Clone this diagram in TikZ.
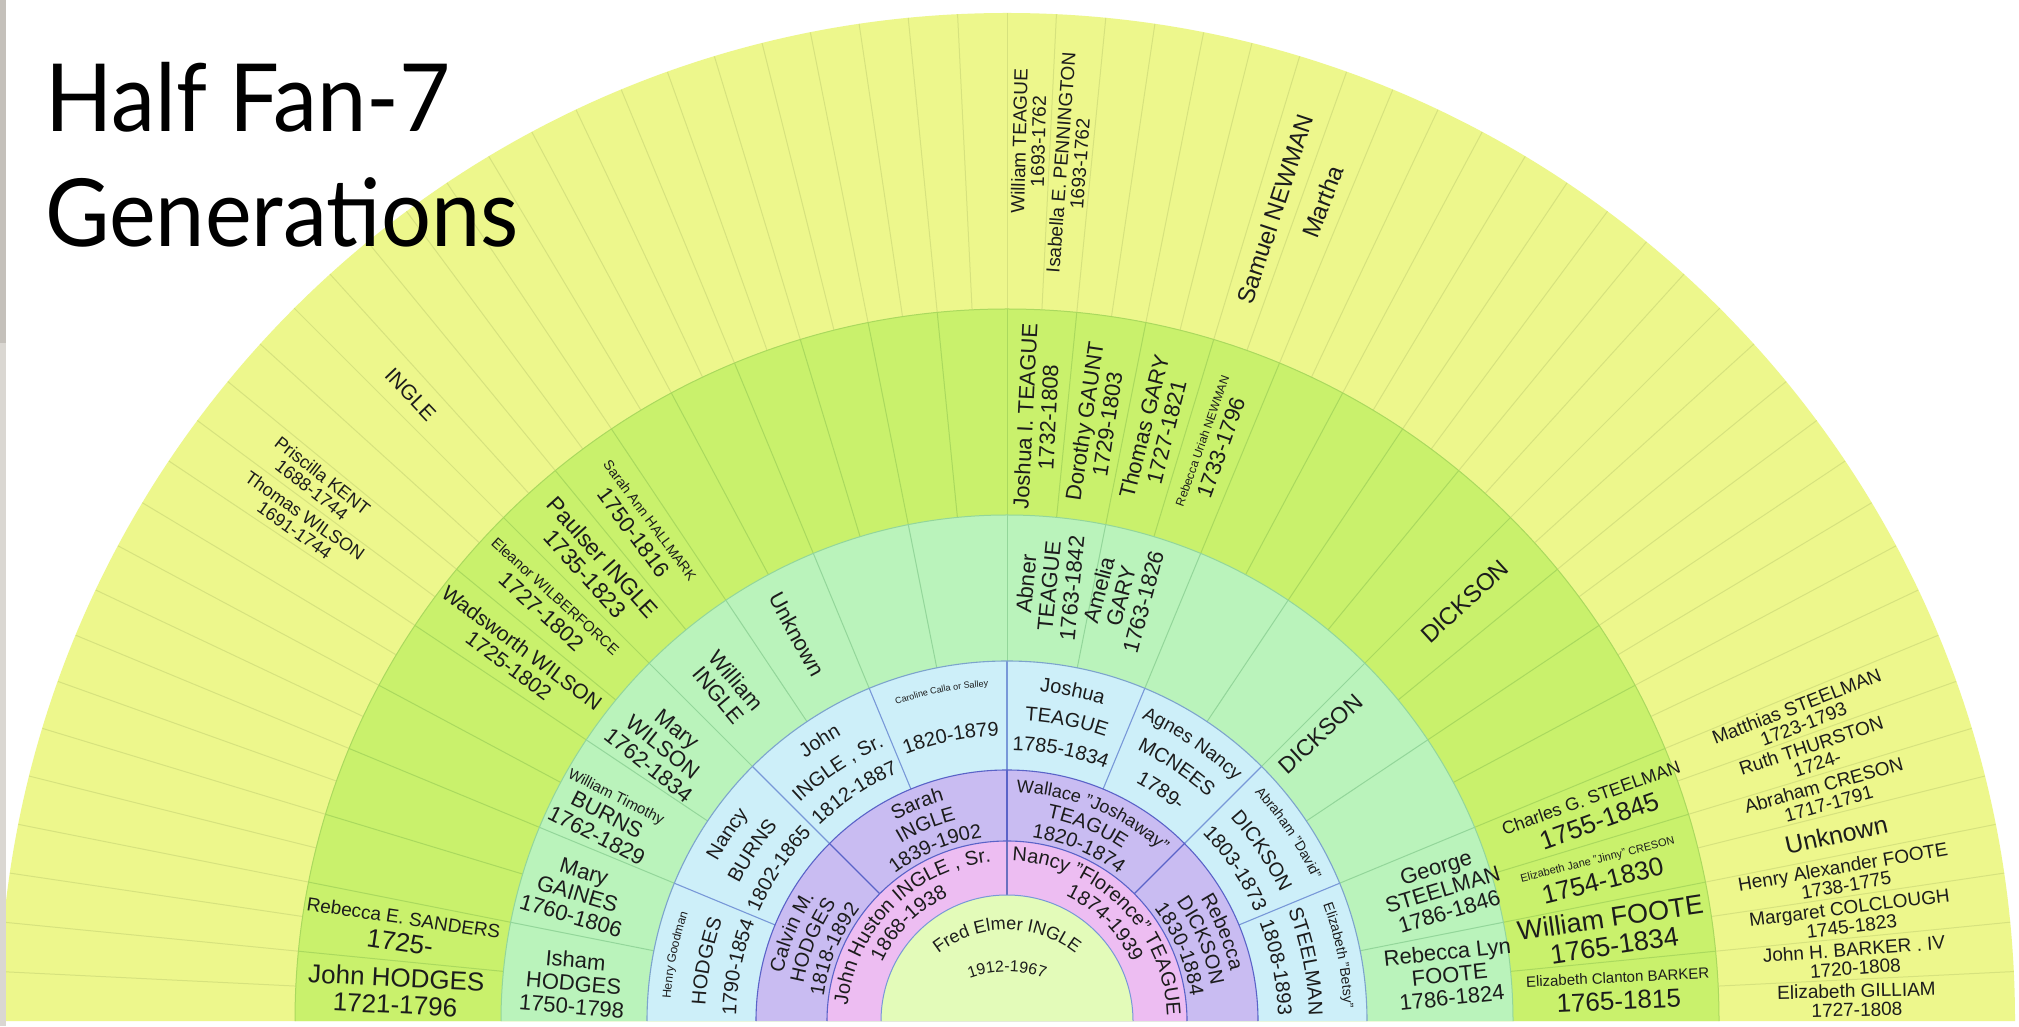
\documentclass[tikz,border=0pt]{standalone}
\usepackage{fontspec}
\setmainfont{Liberation Sans}
\newfontfamily\titlefont[FakeStretch=0.94]{Lato}
\usetikzlibrary{decorations.text}
\definecolor{c7}{HTML}{EDF78C}
\definecolor{c6}{HTML}{C9F16C}
\definecolor{c5}{HTML}{BAF3BB}
\definecolor{c4}{HTML}{CDEFF9}
\definecolor{c3}{HTML}{C9BCF2}
\definecolor{c2}{HTML}{EDBDF2}
\definecolor{c1}{HTML}{E3FBB9}
\definecolor{d7}{HTML}{D6E27E}
\definecolor{d6}{HTML}{AAD95E}
\definecolor{d5}{HTML}{93D69A}
\definecolor{d4}{HTML}{7898D8}
\definecolor{d3}{HTML}{5A63C8}
\definecolor{d2}{HTML}{6A70C0}
\definecolor{txt}{HTML}{1C1C1C}
\definecolor{strip1}{HTML}{C4C0BA}
\definecolor{strip2}{HTML}{DAD7D2}
\newcommand\fz[2]{\fontsize{#1}{#2}\selectfont}
\newcommand\rlab[5][]{\pgfmathsetmacro\rrot{#3>90?#3-180:#3}\node[radlab,rotate=\rrot,#1] (#2) at (#3:#4) {#5};}
\newcommand\atext[5][60]{\path[decorate,decoration={text along path,text align=center,text={|\color{txt}\fontsize{#4}{#4}\selectfont|#5}}] ({#2+#1}:#3) arc[start angle={#2+#1},end angle={#2-#1},radius=#3];}
\begin{document}
\begin{tikzpicture}[x=1pt,y=1pt,
  radlab/.style={inner sep=0pt,align=center,text=txt},
  div7/.style={draw=d7,line width=1pt},
  div6/.style={draw=d6,line width=1pt},
  div5/.style={draw=d5,line width=1pt},
  div4/.style={draw=d4,line width=1.1pt},
  div3/.style={draw=d3,line width=1.1pt},
  div2/.style={draw=d2,line width=1.1pt}]
\useasboundingbox (0,0) rectangle (2019,1026);
\fill[white] (0,0) rectangle (2019,1026);
\begin{scope}[shift={(1007,5)}]
 % rings
 \fill[c7] (0:1008) arc[start angle=0,end angle=180,radius=1008] -- cycle;
 \fill[c6] (0:712) arc[start angle=0,end angle=180,radius=712] -- cycle;
 \fill[c5] (0:506) arc[start angle=0,end angle=180,radius=506] -- cycle;
 \fill[c4] (0:360) arc[start angle=0,end angle=180,radius=360] -- cycle;
 \fill[c3] (0:251) arc[start angle=0,end angle=180,radius=251] -- cycle;
 \fill[c2] (0:180) arc[start angle=0,end angle=180,radius=180] -- cycle;
 \fill[c1] (0:126) arc[start angle=0,end angle=180,radius=126] -- cycle;
 % dividers
 \foreach \i in {1,...,63} \draw[div7] ({\i*2.8125}:712) -- ({\i*2.8125}:1008);
 \foreach \i in {1,...,31} \draw[div6] ({\i*5.625}:506) -- ({\i*5.625}:712);
 \foreach \i in {1,...,15} \draw[div5] ({\i*11.25}:360) -- ({\i*11.25}:506);
 \foreach \i in {1,...,7} \draw[div4] ({\i*22.5}:251) -- ({\i*22.5}:360);
 \foreach \i in {1,2,3} \draw[div3] ({\i*45}:180) -- ({\i*45}:251);
 \draw[div2] (90:126) -- (90:180);
 % boundaries
 \draw[div6] (0:712) arc[start angle=0,end angle=180,radius=712];
 \draw[div5] (0:506) arc[start angle=0,end angle=180,radius=506];
 \draw[draw=d4!80!d5,line width=1.1pt] (0:360) arc[start angle=0,end angle=180,radius=360];
 \draw[div3] (0:251) arc[start angle=0,end angle=180,radius=251];
 \draw[div3] (0:180) arc[start angle=0,end angle=180,radius=180];
 \draw[draw=d4,line width=1pt] (0:126) arc[start angle=0,end angle=180,radius=126];

 % generation 7
 \rlab[font=\fz{19}{19}]{g7a}{1.41}{850}{Elizabeth GILLIAM\\1727-1808}
 \rlab[font=\fz{19}{19}]{g7b}{4.22}{850}{John H. BARKER . IV\\1720-1808}
 \rlab[font=\fz{19}{19}]{g7c}{7.03}{850}{Margaret COLCLOUGH\\1745-1823}
 \rlab[font=\fz{19}{19}]{g7d}{9.84}{850}{Henry Alexander FOOTE\\1738-1775}
 \rlab[font=\fz{25}{25}]{g7e}{12.66}{850}{Unknown}
 \rlab[font=\fz{19}{19}]{g7f}{15.47}{850}{Abraham CRESON\\1717-1791}
 \rlab[font=\fz{19}{19}]{g7g}{18.28}{850}{Ruth THURSTON\\1724-}
 \rlab[font=\fz{19}{19}]{g7h}{21.09}{850}{Matthias STEELMAN\\1723-1793}
 \rlab[font=\fz{24}{25}]{g7i}{68.91}{878}{Martha}
 \rlab[font=\fz{24}{25}]{g7j}{71.72}{855}{Samuel NEWMAN}
 \rlab[font=\fz{19}{19}]{g7k}{85.78}{860}{Isabella E. PENNINGTON\\1693-1762}
 \rlab[font=\fz{19}{19}]{g7l}{88.59}{880}{William TEAGUE\\1693-1762}
 \rlab[font=\fz{21}{22}]{g7m}{133.59}{865}{INGLE}
 \rlab[font=\fz{18}{18}]{g7n}{142.03}{875}{Priscilla KENT\\1688-1744}
 \rlab[font=\fz{18}{18}]{g7o}{144.84}{865}{Thomas WILSON\\1691-1744}

 % generation 6
 \rlab[font=\fz{26}{27}]{g6a}{2.81}{612}{{\fz{15}{16}Elizabeth Clanton BARKER}\\1765-1815}
 \rlab[font=\fz{27}{28}]{g6b}{8.44}{612}{William FOOTE\\1765-1834}
 \rlab[font=\fz{26}{27}]{g6c}{14.06}{612}{{\fz{11}{12}Elizabeth Jane "Jinny" CRESON}\\1754-1830}
 \rlab[font=\fz{26}{27}]{g6d}{19.69}{625}{{\fz{18}{19}Charles G. STEELMAN}\\1755-1845}
 \rlab[font=\fz{24}{25}]{g6e}{42.5}{621}{DICKSON}
 \rlab[font=\fz{22}{23}]{g6f}{70.31}{612}{{\fz{12}{13}Rebecca Uriah NEWMAN}\\1733-1796}
 \rlab[font=\fz{22}{23}]{g6g}{75.94}{610}{Thomas GARY\\1727-1821}
 \rlab[font=\fz{22}{23}]{g6h}{81.56}{605}{Dorothy GAUNT\\1729-1803}
 \rlab[font=\fz{22}{23}]{g6i}{87.19}{605}{Joshua I. TEAGUE\\1732-1808}
 \rlab[font=\fz{22}{23}]{g6j}{126.56}{615}{{\fz{14}{15}Sarah Ann HALLMARK}\\1750-1816}
 \rlab[font=\fz{23}{24}]{g6k}{132.19}{615}{Paulser INGLE\\1735-1823}
 \rlab[font=\fz{22}{23}]{g6l}{137.81}{620}{{\fz{15}{16}Eleanor WILBERFORCE}\\1727-1802}
 \rlab[font=\fz{21}{22}]{g6m}{143.44}{612}{Wadsworth WILSON\\1725-1802}
 \rlab[font=\fz{26}{27}]{g6n}{171.56}{612}{{\fz{19}{20}Rebecca E. SANDERS}\\1725-}
 \rlab[font=\fz{26}{27}]{g6o}{177.19}{612}{John HODGES\\1721-1796}

 % generation 5
 \rlab[font=\fz{22}{23}]{g5a}{175}{435}{Isham\\HODGES\\1750-1798}
 \rlab[font=\fz{22}{23}]{g5b}{163.5}{448}{Mary\\GAINES\\1760-1806}
 \rlab[font=\fz{22}{23}]{g5c}{153}{450}{{\fz{15}{16}William Timothy}\\BURNS\\1762-1829}
 \rlab[font=\fz{22}{23}]{g5d}{141.5}{440}{Mary\\WILSON\\1762-1834}
 \rlab[font=\fz{22}{23}]{g5e}{130}{435}{William\\INGLE}
 \rlab[font=\fz{22}{23}]{g5f}{118.5}{440}{Unknown}
 \rlab[font=\fz{22}{23}]{g5g}{84.5}{437}{Abner\\TEAGUE\\1763-1842}
 \rlab[font=\fz{22}{23}]{g5h}{75}{440}{Amelia\\GARY\\1763-1826}
 \rlab[font=\fz{23}{24}]{g5i}{42.5}{425}{DICKSON}
 \rlab[font=\fz{22}{23}]{g5j}{16.8}{455}{George\\STEELMAN\\1786-1846}
 \rlab[font=\fz{22}{23}]{g5k}{6}{445}{Rebecca Lyn\\FOOTE\\1786-1824}

 % generation 4 (tangential, curved)
 \atext[40]{168.75}{337}{12}{Henry Goodman}
 \atext[40]{168.75}{302}{20}{HODGES}
 \atext[40]{168.75}{271}{20}{1790-1854}
 \atext[40]{146.25}{331}{20}{Nancy}
 \atext[40]{146.25}{301}{20}{BURNS}
 \atext[40]{146.25}{271}{20}{1802-1865}
 \atext[40]{123.75}{331}{20}{John}
 \atext[40]{123.75}{301}{20}{INGLE , Sr.}
 \atext[40]{123.75}{271}{20}{1812-1887}
 \atext[40]{101.25}{335}{9}{Caroline Calla or Salley}
 \atext[40]{101.25}{285}{20}{1820-1879}
 \atext[40]{78.75}{331}{20}{Joshua}
 \atext[40]{78.75}{301}{20}{TEAGUE}
 \atext[40]{78.75}{271}{20}{1785-1834}
 \atext[40]{56.25}{331}{19}{Agnes Nancy}
 \atext[40]{56.25}{301}{20}{MCNEES}
 \atext[40]{56.25}{271}{20}{1789-}
 \atext[40]{33.75}{337}{14}{Abraham "David"}
 \atext[40]{33.75}{302}{20}{DICKSON}
 \atext[40]{33.75}{271}{20}{1803-1873}
 \atext[40]{11.25}{337}{14}{Elizabeth "Betsy"}
 \atext[40]{11.25}{302}{20}{STEELMAN}
 \atext[40]{11.25}{271}{20}{1808-1893}

 % generation 3
 \atext[70]{157.5}{229}{20}{Calvin M.}
 \atext[70]{157.5}{207}{20}{HODGES}
 \atext[70]{157.5}{185}{20}{1818-1892}
 \atext[70]{112.5}{229}{20}{Sarah}
 \atext[70]{112.5}{207}{20}{INGLE}
 \atext[70]{112.5}{185}{20}{1839-1902}
 \atext[70]{67.5}{229}{18}{Wallace "Joshaway"}
 \atext[70]{67.5}{207}{20}{TEAGUE}
 \atext[70]{67.5}{185}{20}{1820-1874}
 \atext[70]{22.5}{229}{20}{Rebecca}
 \atext[70]{22.5}{207}{20}{DICKSON}
 \atext[70]{22.5}{185}{20}{1830-1884}

 % generation 2
 \atext[80]{135}{160}{20}{John Huston INGLE , Sr.}
 \atext[80]{135}{138}{20}{1868-1938}
 \atext[80]{45}{160}{20}{Nancy "Florence" TEAGUE}
 \atext[80]{45}{138}{20}{1874-1939}

 % centre
 \path[shift={(0,-20)},decorate,decoration={text along path,text align=center,text={|\color{txt}\fontsize{18}{18}\selectfont|Fred Elmer INGLE}}] (165:111) arc[start angle=165,end angle=15,radius=111];
 \path[shift={(0,-60)},decorate,decoration={text along path,text align=center,text={|\color{txt}\fontsize{16}{16}\selectfont|1912-1967}}] (140:109) arc[start angle=140,end angle=40,radius=109];
\end{scope}

% left strip
\fill[strip1] (0,683) rectangle (6,1026);
\fill[strip2] (0,0) rectangle (6,683);

% title
\node[anchor=base west,inner sep=0pt,font=\titlefont\fontsize{94}{94}\selectfont] (title1) at (45,894) {Half Fan-7};
\node[anchor=base west,inner sep=0pt,font=\titlefont\fontsize{94}{94}\selectfont] (title2) at (45,779) {Generations};
\end{tikzpicture}
\end{document}
